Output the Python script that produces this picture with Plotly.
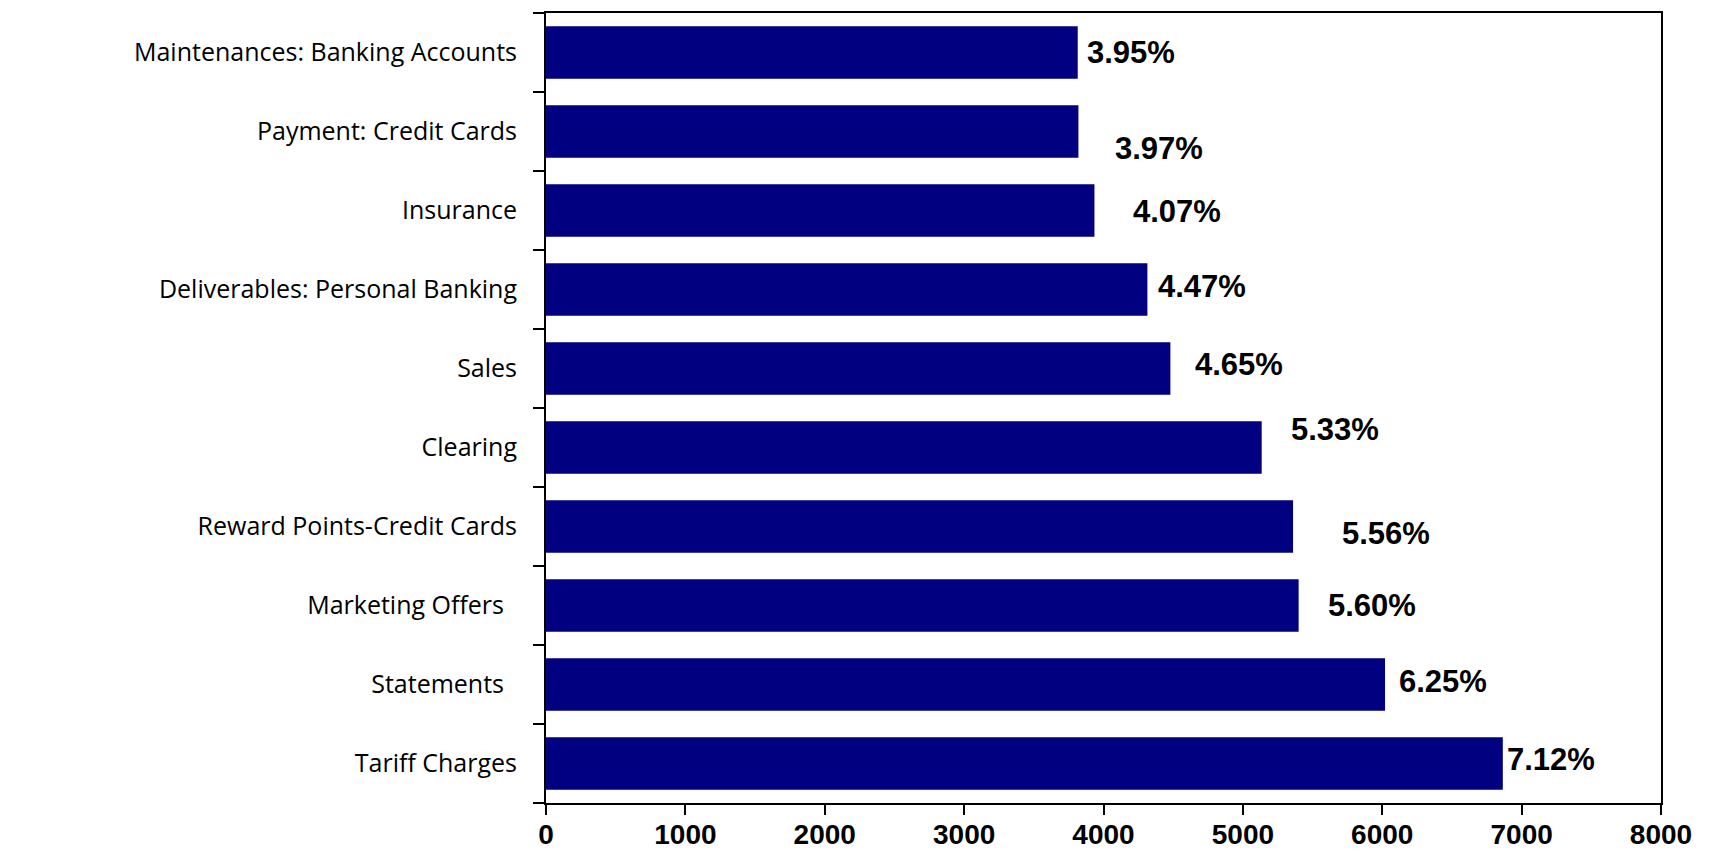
import plotly.graph_objects as go

categories = [
    "Maintenances: Banking Accounts",
    "Payment: Credit Cards",
    "Insurance",
    "Deliverables: Personal Banking",
    "Sales",
    "Clearing",
    "Reward Points-Credit Cards",
    "Marketing Offers ",
    "Statements ",
    "Tariff Charges",
]
values = [3815, 3820, 3935, 4315, 4480, 5135, 5360, 5400, 6020, 6865]
pct_labels = ["3.95%", "3.97%", "4.07%", "4.47%", "4.65%",
              "5.33%", "5.56%", "5.60%", "6.25%", "7.12%"]
x_ticks = [0, 1000, 2000, 3000, 4000, 5000, 6000, 7000, 8000]

# label placement offsets in pixels (style only)
label_dx = [7, 35, 37, 9, 23, 27, 47, 27, 12, 2]
label_dy = [0, 17, 1, -3, -4, -18, 7, 0, -3, -4]

tick_text = [c.rstrip() + ("\u00a0\u00a0" if c.endswith(" ") else "") for c in categories]

fig = go.Figure()
fig.add_trace(go.Bar(
    x=values,
    y=categories,
    orientation="h",
    marker=dict(color="#000080", line=dict(width=0)),
    hoverinfo="x+y",
))

for v, c, t, dx, dy in zip(values, categories, pct_labels, label_dx, label_dy):
    fig.add_annotation(
        x=v, y=c, text="<b>" + t + "</b>", showarrow=False,
        xanchor="left", yanchor="middle", xshift=dx, yshift=-dy,
        font=dict(family="Liberation Sans, Arial", size=31, color="black"),
    )

fig.update_layout(
    width=1713, height=854,
    margin=dict(l=546, r=52, t=13, b=51),
    paper_bgcolor="white", plot_bgcolor="white",
    bargap=0.335,
    showlegend=False,
)
fig.update_xaxes(
    range=[0, 8000], tickvals=x_ticks, ticktext=["<b>%d</b>" % v for v in x_ticks],
    showgrid=False, zeroline=False, automargin=False,
    showline=True, linecolor="black", linewidth=2, mirror=True,
    ticks="outside", ticklen=10, tickwidth=2, tickcolor="black",
    tickfont=dict(family="Liberation Sans, Arial", size=28, color="black"),
    ticklabelstandoff=-5,
)
fig.update_yaxes(
    categoryorder="array", categoryarray=categories,
    tickmode="array", tickvals=categories, ticktext=tick_text,
    autorange="reversed", automargin=False,
    showgrid=False, zeroline=False,
    showline=True, linecolor="black", linewidth=2, mirror=True,
    ticks="outside", ticklen=11, tickwidth=2, tickcolor="black",
    tickson="boundaries",
    tickfont=dict(family="Open Sans", size=25, color="black"),
    ticklabelstandoff=22,
)

fig.write_html("out.html")
